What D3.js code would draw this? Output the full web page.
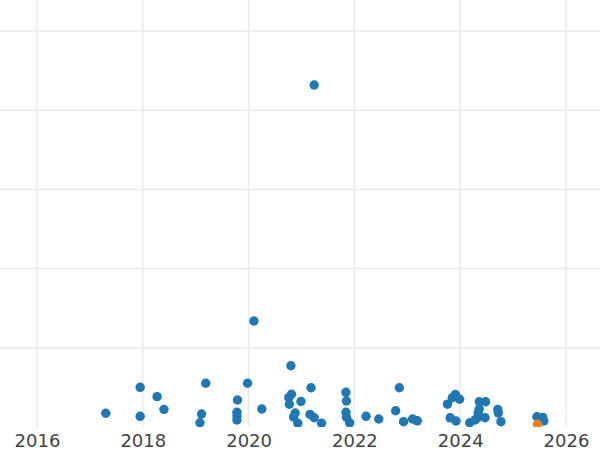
<!DOCTYPE html>
<html>
<head>
<meta charset="utf-8">
<script src="https://cdn.jsdelivr.net/npm/d3@7"></script>
<style>
  html, body { margin: 0; padding: 0; background: #fff; }
  svg { display: block; }
</style>
</head>
<body>
<svg id="chart" width="600" height="450"></svg>
<script>
// Data (x = decimal year, y = value)
const blueYears = [
  2017.30, 2017.95, 2018.27, 2018.40, 2017.95,
  2019.19, 2019.11, 2019.08, 2019.98, 2019.79,
  2019.78, 2019.78, 2019.78, 2020.25, 2020.10,
  2021.24, 2020.80, 2020.81, 2020.76, 2020.77,
  2020.99, 2021.18, 2020.88, 2020.85, 2020.93,
  2021.16, 2021.24, 2021.38, 2021.84, 2021.85,
  2021.84, 2021.85, 2021.91, 2022.22, 2022.46,
  2022.85, 2022.78, 2022.93, 2023.10, 2023.19,
  2023.76, 2023.85, 2023.91, 2023.99, 2023.81,
  2023.92, 2024.18, 2024.28, 2024.36, 2024.48,
  2024.36, 2024.34, 2024.32, 2024.47, 2024.71,
  2024.72, 2024.77, 2025.45, 2025.56, 2025.58
];
const blueValues = [
  1.73, 5.01, 3.83, 2.23, 1.35,
  5.52, 1.64, 0.54, 5.52, 3.41,
  1.86, 1.39, 0.88, 2.27, 13.38,
  43.18, 7.74, 4.13, 3.70, 2.87,
  3.22, 4.96, 1.77, 1.26, 0.47,
  1.60, 1.17, 0.47, 4.38, 3.28,
  1.86, 1.24, 0.53, 1.35, 1.01,
  4.96, 2.05, 0.67, 1.01, 0.78,
  2.88, 3.69, 4.10, 3.51, 1.16,
  0.76, 0.54, 0.88, 3.19, 3.19,
  2.27, 1.81, 1.10, 1.17, 2.21,
  1.77, 0.67, 1.30, 1.22, 0.76
];
const orangeYears = [2025.46];
const orangeValues = [0.34];

const xTicks = [2016, 2018, 2020, 2022, 2024, 2026];
const yGrid = [10, 20, 30, 40, 50];

const W = 600, H = 450;
const plotBottom = 427;

const svg = d3.select("#chart");

const x = d3.scaleLinear().domain([2015.3006, 2026.6427]).range([0, W]);
const y = d3.scaleLinear().domain([0, plotBottom / 7.92]).range([plotBottom, 0]);

svg.append("defs").append("clipPath").attr("id", "clip")
  .append("rect").attr("x", 0).attr("y", 0).attr("width", W).attr("height", plotBottom);

// Grid
const grid = svg.append("g");
grid.selectAll("line.h").data(yGrid).join("line")
  .attr("x1", 0).attr("x2", W)
  .attr("y1", d => y(d)).attr("y2", d => y(d))
  .attr("stroke", "#ebebeb").attr("stroke-width", 1.6);
grid.selectAll("line.v").data(xTicks).join("line")
  .attr("x1", d => x(d)).attr("x2", d => x(d))
  .attr("y1", 0).attr("y2", plotBottom)
  .attr("stroke", "#ebebeb").attr("stroke-width", 1.6);

// X axis labels
const xAxis = d3.axisBottom(x).tickValues(xTicks).tickFormat(d3.format("d")).tickSize(0).tickPadding(7);
const ax = svg.append("g").attr("transform", `translate(0,${plotBottom})`).call(xAxis);
ax.select(".domain").remove();
ax.selectAll("text")
  .attr("font-family", "DejaVu Sans, sans-serif")
  .attr("font-size", 18)
  .attr("fill", "#444");

// Points
const pts = svg.append("g").attr("clip-path", "url(#clip)");
pts.selectAll("circle.b").data(d3.range(blueYears.length)).join("circle")
  .attr("cx", i => x(blueYears[i]))
  .attr("cy", i => y(blueValues[i]))
  .attr("r", 4.7)
  .attr("fill", "#1f77b4");
pts.selectAll("circle.o").data(d3.range(orangeYears.length)).join("circle")
  .attr("cx", i => x(orangeYears[i]))
  .attr("cy", i => y(orangeValues[i]))
  .attr("r", 4.7)
  .attr("fill", "#ff7f0e");
</script>
</body>
</html>
